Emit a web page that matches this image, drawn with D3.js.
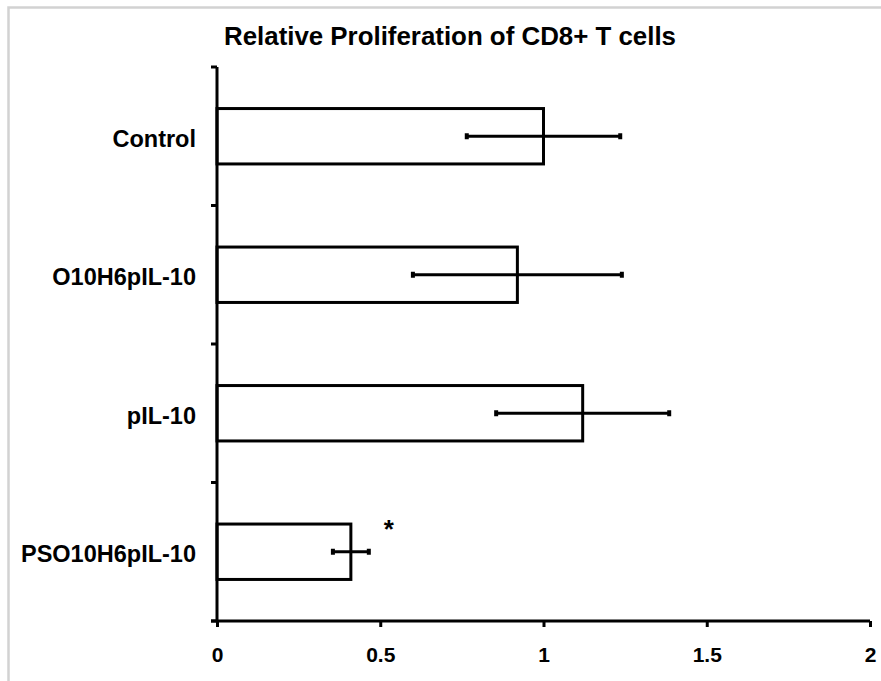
<!DOCTYPE html>
<html>
<head>
<meta charset="utf-8">
<script src="https://cdn.jsdelivr.net/npm/d3@7"></script>
<style>
  body { margin: 0; background: #fff; }
  text { font-family: "Liberation Sans", Arial, sans-serif; font-weight: bold; fill: #000; }
</style>
</head>
<body>
<svg id="svg" width="881" height="681"></svg>
<script>
// chart values
let categories = ["Control", "O10H6pIL-10", "pIL-10", "PSO10H6pIL-10"];
let means = [1.0, 0.92, 1.12, 0.41];
let errors = [0.235, 0.32, 0.265, 0.055];
let significant = [false, false, false, true];
let xTicks = [0, 0.5, 1, 1.5, 2];
let title = "Relative Proliferation of CD8+ T cells";

let svg = d3.select("#svg");

// grey frame on the top and left edge
svg.append("path")
   .attr("d", "M8.5,681 V7.5 H881")
   .attr("fill", "none")
   .attr("stroke", "#d2d2d2")
   .attr("stroke-width", 2.5);

let plotLeft = 217, plotRight = 870, plotTop = 67, plotBottom = 621;

let x = d3.scaleLinear().domain([0, 2]).range([plotLeft, plotRight]);
let y = d3.scaleBand().domain(categories).range([plotTop, plotBottom])
          .paddingInner(0.6).paddingOuter(0.3);

svg.append("text")
   .attr("x", 450).attr("y", 45)
   .attr("text-anchor", "middle")
   .attr("font-size", 25.5)
   .attr("textLength", 452)
   .attr("lengthAdjust", "spacingAndGlyphs")
   .text(title);

// bars
svg.selectAll("rect.bar")
   .data(categories)
   .enter()
   .append("rect")
   .attr("class", "bar")
   .attr("x", x(0))
   .attr("y", function(d) { return y(d); })
   .attr("width", function(d, i) { return x(means[i]) - x(0); })
   .attr("height", y.bandwidth())
   .attr("fill", "#fff")
   .attr("stroke", "#000")
   .attr("stroke-width", 3);

// error bars
let eb = svg.selectAll("g.err")
   .data(categories)
   .enter()
   .append("g")
   .attr("class", "err")
   .attr("transform", function(d) { return "translate(0," + (y(d) + y.bandwidth() / 2) + ")"; });

eb.append("line")
  .attr("x1", function(d, i) { return x(means[i] - errors[i]); })
  .attr("x2", function(d, i) { return x(means[i] + errors[i]); })
  .attr("stroke", "#000").attr("stroke-width", 3);

eb.selectAll("line.cap")
  .data(function(d, i) { return [means[i] - errors[i], means[i] + errors[i]]; })
  .enter()
  .append("line")
  .attr("class", "cap")
  .attr("x1", function(v) { return x(v); })
  .attr("x2", function(v) { return x(v); })
  .attr("y1", -3).attr("y2", 3)
  .attr("stroke", "#000").attr("stroke-width", 4);

// significance mark
svg.selectAll("text.star")
   .data(categories.filter(function(d, i) { return significant[i]; }))
   .enter()
   .append("text")
   .attr("class", "star")
   .attr("x", function(d) { let i = categories.indexOf(d); return x(means[i] + errors[i]) + 20; })
   .attr("y", function(d) { return y(d) + 14; })
   .attr("text-anchor", "middle")
   .attr("font-size", 26)
   .text("*");

// x axis
let xAxis = svg.append("g")
   .attr("transform", "translate(0," + plotBottom + ")")
   .call(d3.axisBottom(x).tickValues(xTicks).tickSize(6).tickSizeOuter(0)
           .tickPadding(20).tickFormat(d3.format("")));
xAxis.select(".domain").attr("stroke-width", 3).attr("d", "M" + (plotLeft - 6) + ",0H" + plotRight);
xAxis.selectAll(".tick line").attr("stroke-width", 3);
xAxis.selectAll(".tick text").attr("font-size", 21);

// y axis: ticks between categories
let yLine = svg.append("g");
yLine.append("line")
     .attr("x1", plotLeft).attr("x2", plotLeft)
     .attr("y1", plotTop).attr("y2", plotBottom)
     .attr("stroke", "#000").attr("stroke-width", 3);
let bounds = d3.range(categories.length + 1).map(function(i) { return plotTop + i * y.step(); });
yLine.selectAll("line.tk")
     .data(bounds)
     .enter()
     .append("line")
     .attr("class", "tk")
     .attr("x1", plotLeft - 6).attr("x2", plotLeft)
     .attr("y1", function(d) { return d; })
     .attr("y2", function(d) { return d; })
     .attr("stroke", "#000").attr("stroke-width", 3);

yLine.selectAll("text")
     .data(categories)
     .enter()
     .append("text")
     .attr("x", 196)
     .attr("y", function(d) { return y(d) + y.bandwidth() / 2 + 2; })
     .attr("dy", "0.36em")
     .attr("text-anchor", "end")
     .attr("font-size", 23.5)
     .text(function(d) { return d; });
</script>
</body>
</html>
